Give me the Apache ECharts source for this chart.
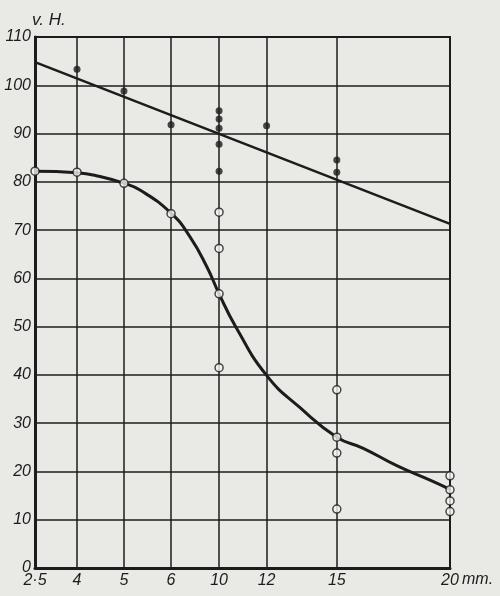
<!DOCTYPE html>
<html>
<head>
<meta charset="utf-8">
<script src="https://cdn.jsdelivr.net/npm/echarts@6/dist/echarts.min.js"></script>
<style>
	html, body { margin: 0; padding: 0; background: #e9e9e6; }
	#chart { width: 500px; height: 596px; }
</style>
</head>
<body>
<div id="chart"></div>
<script>
// x axis of the original is not linear: each tick sits at its own place on the scale
var xTicks = [2.5, 4, 5, 6, 10, 12, 15, 20];
var xTickLabels = ['2·5', '4', '5', '6', '10', '12', '15', '20'];
var xScalePos = [0, 0.888, 1.88, 2.875, 3.89, 4.894, 6.378, 8.77];

// filled dots
var solidMM = [4, 5, 6, 10, 10, 10, 10, 10, 12, 15, 15];
var solidVH = [103.3, 98.8, 91.8, 94.7, 93.0, 91.1, 87.8, 82.2, 91.6, 84.5, 82.0];

// open circles
var openMM = [2.5, 4, 5, 6, 10, 10, 10, 10, 15, 15, 15, 15, 20, 20, 20, 20];
var openVH = [82.2, 82.0, 79.7, 73.4, 73.7, 66.2, 56.8, 41.5, 36.9, 27.1, 23.8, 12.2, 19.1, 16.2, 13.9, 11.7];

// straight line through the filled dots
var lineMM = [2.5, 20];
var lineVH = [104.8, 71.3];

// curve through the open circles
var curveMM = [2.5, 4, 4.49, 5, 5.34, 6, 7.58, 8.98, 10, 10.70, 12, 13.43, 15, 16.17, 17.65, 19.12, 20];
var curveVH = [82.2, 81.9, 81.1, 79.7, 78.3, 73.5, 68.6, 62.4, 56.8, 50.0, 39.9, 33.2, 27.1, 24.8, 21.2, 18.2, 16.3];

function toPos(mm) {
	for (var i = 0; i < xTicks.length - 1; i++) {
		if (mm <= xTicks[i + 1]) {
			var f = (mm - xTicks[i]) / (xTicks[i + 1] - xTicks[i]);
			return xScalePos[i] + f * (xScalePos[i + 1] - xScalePos[i]);
		}
	}
	return xScalePos[xScalePos.length - 1];
}

function pairs(xs, ys) {
	return xs.map(function(x, i) {
		return [toPos(x), ys[i]];
	});
}

var ink = '#1c1c1c';

var chart = echarts.init(document.getElementById('chart'));
chart.setOption({
	backgroundColor: '#e9e9e6',
	animation: false,
	grid: {
		left: 35,
		right: 50,
		top: 37,
		bottom: 28,
		show: true,
		borderColor: ink,
		borderWidth: 2
	},
	// unit after the last x label
	graphic: [{
		type: 'text',
		left: 462,
		top: 572,
		style: {
			text: 'mm.',
			fill: ink,
			font: 'italic 16px "Liberation Sans"'
		}
	}],
	xAxis: {
		type: 'value',
		min: 0,
		max: xScalePos[xScalePos.length - 1],
		axisLine: {
			lineStyle: { color: ink, width: 3 }
		},
		axisTick: {
			show: false,
			customValues: xScalePos
		},
		axisLabel: {
			customValues: xScalePos,
			margin: 5,
			color: ink,
			fontFamily: 'Liberation Sans',
			fontStyle: 'italic',
			fontSize: 16,
			formatter: function(v) {
				for (var i = 0; i < xScalePos.length; i++) {
					if (Math.abs(xScalePos[i] - v) < 1e-6) return xTickLabels[i];
				}
				return '';
			}
		},
		splitLine: {
			show: true,
			lineStyle: { color: ink, width: 1.5 }
		}
	},
	yAxis: {
		type: 'value',
		min: 0,
		max: 110,
		interval: 10,
		name: 'v. H.',
		nameLocation: 'end',
		nameGap: 8,
		nameTextStyle: {
			color: ink,
			fontFamily: 'Liberation Sans',
			fontStyle: 'italic',
			fontSize: 17,
			align: 'left',
			padding: [0, 0, 0, -3]
		},
		axisLine: {
			show: true,
			lineStyle: { color: ink, width: 3 }
		},
		axisTick: { show: false },
		axisLabel: {
			margin: 4,
			color: ink,
			fontFamily: 'Liberation Sans',
			fontStyle: 'italic',
			fontSize: 16
		},
		splitLine: {
			show: true,
			lineStyle: { color: ink, width: 1.5 }
		}
	},
	series: [{
			name: 'Gerade',
			type: 'line',
			data: pairs(lineMM, lineVH),
			symbol: 'none',
			lineStyle: { color: ink, width: 2.5 },
			z: 3
		},
		{
			name: 'Kurve',
			type: 'line',
			data: pairs(curveMM, curveVH),
			symbol: 'none',
			smooth: 0.5,
			lineStyle: { color: ink, width: 3 },
			z: 3
		},
		{
			name: 'voll',
			type: 'scatter',
			data: pairs(solidMM, solidVH),
			symbol: 'circle',
			symbolSize: 7,
			itemStyle: { color: ink },
			clip: false,
			z: 4
		},
		{
			name: 'offen',
			type: 'scatter',
			data: pairs(openMM, openVH),
			symbol: 'circle',
			symbolSize: 8,
			itemStyle: { color: '#f4f4f2', borderColor: ink, borderWidth: 1.5 },
			clip: false,
			z: 5
		}
	]
});
</script>
</body>
</html>
